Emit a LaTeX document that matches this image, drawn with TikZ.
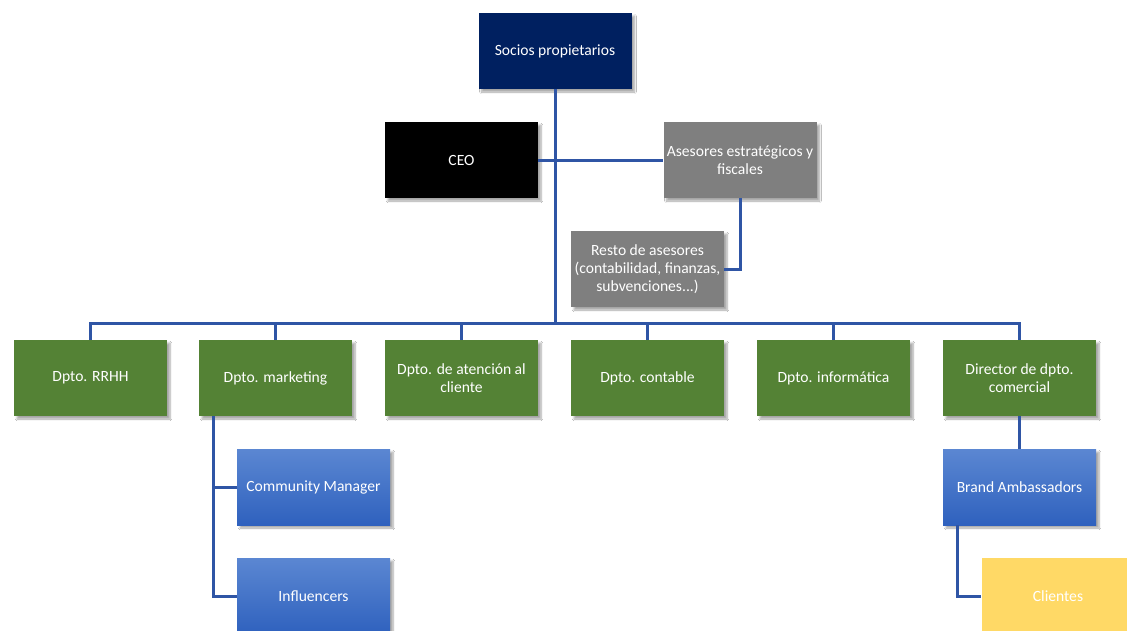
\documentclass[tikz,border=0pt]{standalone}
\usepackage{fontspec}
\setmainfont{Carlito}
\usetikzlibrary{shadows.blur}
\definecolor{navy}{HTML}{002060}
\definecolor{grayb}{HTML}{7F7F7F}
\definecolor{greenb}{HTML}{548235}
\definecolor{bluetop}{HTML}{5B87D2}
\definecolor{bluebot}{HTML}{2F61BE}
\definecolor{yellowb}{HTML}{FFD966}
\definecolor{linec}{HTML}{2F55A5}
\tikzset{
  box/.style={rectangle, minimum width=153pt, minimum height=76pt, inner sep=2pt,
    text=white, align=center, font=\fontsize{15.6}{18}\selectfont,
    blur shadow={shadow xshift=3pt, shadow yshift=-3pt, shadow blur steps=6, shadow opacity=35}},
  navybox/.style={box, fill=navy},
  blackbox/.style={box, fill=black},
  graybox/.style={box, fill=grayb},
  greenbox/.style={box, fill=greenb},
  bluebox/.style={box, top color=bluetop, bottom color=bluebot},
  yellowbox/.style={box, fill=yellowb},
  conn/.style={draw=linec, line width=3pt}
}
\begin{document}
\begin{tikzpicture}[x=1pt, y=-1pt]
\useasboundingbox (0,0) rectangle (1127,630);
\clip (0,0) rectangle (1127,630);
\fill[white] (0,0) rectangle (1127,630);
\coordinate (bus) at (555,323);
\coordinate (busL) at (90.5,323);
\coordinate (busR) at (1019.5,323);
\path
  node[navybox] (soc) at (555,51) {Socios propietarios}
  node[blackbox] (ceo) at (461.5,160) {CEO}
  node[graybox] (ase) at (740,160) {Asesores estratégicos y\\fiscales}
  node[graybox] (res) at (647.5,269) {Resto de asesores\\(contabilidad, finanzas,\\subvenciones...)}
  node[greenbox] (rrhh) at (90.5,378) {Dpto. RRHH}
  node[greenbox] (mkt) at (275.5,378) {Dpto. marketing}
  node[greenbox] (ate) at (461.5,378) {Dpto. de atención al\\cliente}
  node[greenbox] (con) at (647.5,378) {Dpto. contable}
  node[greenbox] (inf) at (833.5,378) {Dpto. informática}
  node[greenbox] (dir) at (1019.5,378) {Director de dpto.\\comercial}
  node[bluebox] (cm) at (313.5,487) {Community Manager}
  node[bluebox] (infl) at (313.5,596) {Influencers}
  node[bluebox] (ba) at (1019.5,487) {Brand Ambassadors}
  node[yellowbox] (cli) at (1058,596) {Clientes};
\draw[conn] (soc.south) -- (bus);
\draw[conn] (ceo.east) -- (ase.west);
\draw[conn] (ase.south) |- (res.east);
\draw[conn, line cap=rect] (busL) -- (busR);
\foreach \n in {rrhh,mkt,ate,con,inf,dir} \draw[conn] (\n.north) -- (\n.north |- bus);
\draw[conn] ([xshift=15pt]mkt.south west) |- (cm.west);
\draw[conn] ([xshift=15pt]mkt.south west) |- (infl.west);
\draw[conn] (dir.south) -- (ba.north);
\draw[conn] ([xshift=15pt]ba.south west) |- (cli.west);
\end{tikzpicture}
\end{document}
